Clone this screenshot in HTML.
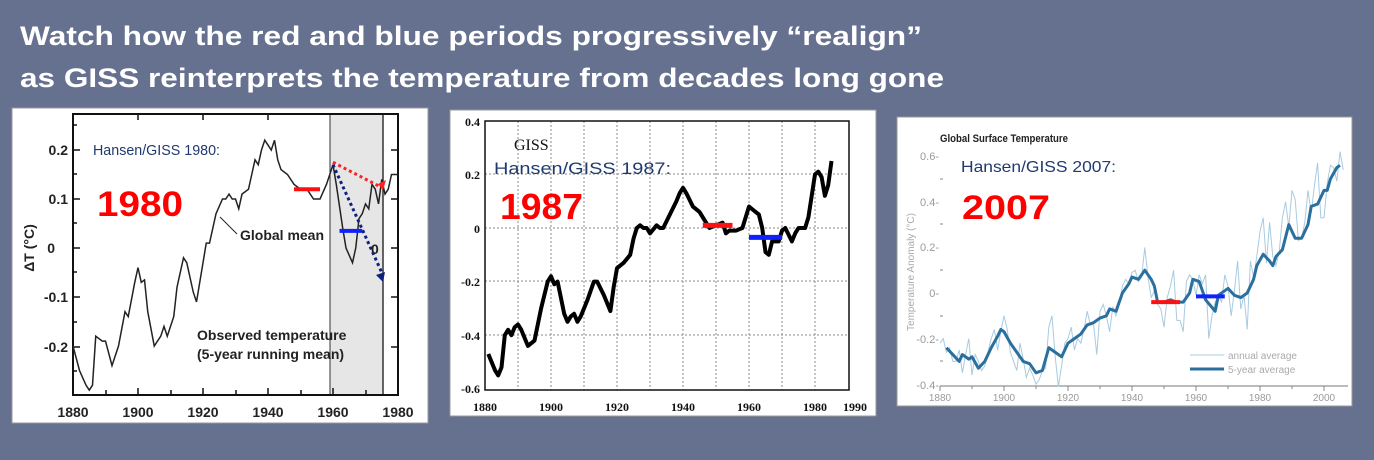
<!DOCTYPE html>
<html><head><meta charset="utf-8"><style>
html,body{margin:0;padding:0;background:#66718f;}
svg{display:block}
</style></head><body>
<svg width="1374" height="460" viewBox="0 0 1374 460" xmlns="http://www.w3.org/2000/svg" font-family="Liberation Sans, sans-serif">
<rect width="1374" height="460" fill="#66718f"/>
<text x="20" y="45" fill="#fff" font-size="27" font-weight="bold" textLength="902" lengthAdjust="spacingAndGlyphs">Watch how the red and blue periods progressively “realign”</text>
<text x="20" y="87" fill="#fff" font-size="27" font-weight="bold" textLength="924" lengthAdjust="spacingAndGlyphs">as GISS reinterprets the temperature from decades long gone</text>

<!-- Panel 1 -->
<rect x="12" y="108" width="416" height="315" fill="#fff" stroke="#999"/>
<rect x="330" y="114" width="53" height="281" fill="#e6e6e6"/>
<line x1="330" y1="114" x2="330" y2="395" stroke="#333" stroke-width="1"/>
<line x1="383" y1="114" x2="383" y2="395" stroke="#333" stroke-width="1.5"/>
<rect x="73" y="114" width="325" height="281" fill="none" stroke="#111" stroke-width="2"/>
<g stroke="#111" stroke-width="1.5">
<line x1="73" y1="150" x2="80" y2="150"/><line x1="73" y1="199" x2="80" y2="199"/><line x1="73" y1="248" x2="80" y2="248"/><line x1="73" y1="297" x2="80" y2="297"/><line x1="73" y1="347" x2="80" y2="347"/>
<line x1="73" y1="174" x2="77" y2="174"/><line x1="73" y1="223" x2="77" y2="223"/><line x1="73" y1="272" x2="77" y2="272"/><line x1="73" y1="322" x2="77" y2="322"/><line x1="73" y1="371" x2="77" y2="371"/><line x1="73" y1="125" x2="77" y2="125"/>
<line x1="398" y1="150" x2="391" y2="150"/><line x1="398" y1="199" x2="391" y2="199"/><line x1="398" y1="248" x2="391" y2="248"/><line x1="398" y1="297" x2="391" y2="297"/><line x1="398" y1="347" x2="391" y2="347"/>
<line x1="138" y1="395" x2="138" y2="388"/><line x1="203" y1="395" x2="203" y2="388"/><line x1="268" y1="395" x2="268" y2="388"/><line x1="333" y1="395" x2="333" y2="388"/>
<line x1="106" y1="395" x2="106" y2="390"/><line x1="171" y1="395" x2="171" y2="390"/><line x1="236" y1="395" x2="236" y2="390"/><line x1="301" y1="395" x2="301" y2="390"/><line x1="366" y1="395" x2="366" y2="390"/>
<line x1="138" y1="114" x2="138" y2="120"/><line x1="203" y1="114" x2="203" y2="120"/><line x1="268" y1="114" x2="268" y2="120"/>
</g>
<g transform="translate(-6037,248) scale(3.25,-490)">
<polyline fill="none" stroke="#222" stroke-width="1.5" vector-effect="non-scaling-stroke" points="1880,-0.2 1882,-0.25 1884,-0.28 1885,-0.29 1886,-0.28 1887,-0.18 1889,-0.19 1890,-0.19 1892,-0.24 1894,-0.2 1896,-0.13 1897,-0.14 1899,-0.07 1900,-0.04 1901,-0.07 1902,-0.065 1903,-0.13 1905,-0.2 1907,-0.18 1908,-0.16 1909,-0.18 1911,-0.14 1912,-0.08 1914,-0.02 1915,-0.03 1917,-0.09 1918,-0.11 1920,-0.03 1921,0.01 1922,0.01 1924,0.07 1926,0.1 1927,0.1 1928,0.11 1929,0.1 1930,0.1 1931,0.08 1932,0.11 1934,0.12 1935,0.15 1936,0.18 1937,0.17 1938,0.2 1939,0.22 1940,0.21 1941,0.2 1942,0.22 1943,0.18 1944,0.16 1946,0.15 1948,0.13 1950,0.12 1952,0.12 1954,0.1 1956,0.1 1958,0.13 1960,0.17 1961,0.13 1963,0.04 1964,0.0 1966,-0.03 1967,0.0 1968,0.06 1969,0.07 1970,0.09 1971,0.08 1972,0.13 1973,0.12 1974,0.09 1975,0.14 1976,0.11 1977,0.12 1978,0.15 1980,0.15"/>
<line x1="1948" y1="0.12" x2="1956" y2="0.12" stroke="#ff1010" stroke-width="4" vector-effect="non-scaling-stroke"/>
<line x1="1962" y1="0.035" x2="1969" y2="0.035" stroke="#1020ff" stroke-width="4" vector-effect="non-scaling-stroke"/>
<line x1="1960" y1="0.175" x2="1974.5" y2="0.125" stroke="#ff2020" stroke-width="3" stroke-dasharray="3 3" vector-effect="non-scaling-stroke"/>
<line x1="1960" y1="0.17" x2="1975" y2="-0.05" stroke="#102080" stroke-width="3" stroke-dasharray="3 3" vector-effect="non-scaling-stroke"/>
</g>
<polygon points="378,184 386,180 383,190" fill="#ff2020"/>
<polygon points="376,275 385,272 383,282" fill="#102080"/>
<g font-size="14" font-weight="bold" fill="#222" text-anchor="end">
<text x="68" y="155">0.2</text><text x="68" y="204">0.1</text><text x="55" y="253">0</text><text x="68" y="302">-0.1</text><text x="68" y="352">-0.2</text>
</g>
<text transform="translate(34,248) rotate(-90)" font-size="14" font-weight="bold" fill="#222" text-anchor="middle">ΔT (°C)</text>
<g font-size="14" font-weight="bold" fill="#222" text-anchor="middle">
<text x="73" y="417">1880</text><text x="138" y="417">1900</text><text x="203" y="417">1920</text><text x="268" y="417">1940</text><text x="333" y="417">1960</text><text x="398" y="417">1980</text>
</g>
<line x1="220" y1="217" x2="237" y2="234" stroke="#222" stroke-width="1"/>
<text x="240" y="240" font-size="14" font-weight="bold" fill="#222">Global mean</text>
<text x="371" y="254" font-size="14" font-weight="bold" fill="#222">0</text>
<text x="197" y="340" font-size="14" font-weight="bold" fill="#222">Observed temperature</text>
<text x="197" y="359" font-size="14" font-weight="bold" fill="#222">(5-year running mean)</text>
<text x="93" y="155" font-size="15" fill="#1f3a6e" textLength="127" lengthAdjust="spacingAndGlyphs">Hansen/GISS 1980:</text>
<text x="97" y="216" font-size="35" font-weight="bold" fill="#ff0000" textLength="86" lengthAdjust="spacingAndGlyphs">1980</text>

<!-- Panel 2 -->
<rect x="450" y="110" width="426" height="306" fill="#fff" stroke="#999"/>
<g stroke="#888" stroke-width="1" stroke-dasharray="2 2">
<line x1="518" y1="121" x2="518" y2="390"/><line x1="551" y1="121" x2="551" y2="390"/><line x1="584" y1="121" x2="584" y2="390"/><line x1="617" y1="121" x2="617" y2="390"/><line x1="650" y1="121" x2="650" y2="390"/><line x1="683" y1="121" x2="683" y2="390"/><line x1="716" y1="121" x2="716" y2="390"/><line x1="749" y1="121" x2="749" y2="390"/><line x1="782" y1="121" x2="782" y2="390"/><line x1="815" y1="121" x2="815" y2="390"/>
<line x1="485" y1="174" x2="849" y2="174"/><line x1="485" y1="228" x2="849" y2="228"/><line x1="485" y1="281" x2="849" y2="281"/><line x1="485" y1="335" x2="849" y2="335"/>
</g>
<rect x="485" y="121" width="364" height="269" fill="none" stroke="#111" stroke-width="1.5"/>
<g transform="translate(-5719,228) scale(3.3,-268)">
<polyline fill="none" stroke="#000" stroke-width="4" stroke-linejoin="round" vector-effect="non-scaling-stroke" points="1881,-0.47 1883,-0.53 1884,-0.55 1885,-0.52 1886,-0.4 1887,-0.38 1888,-0.4 1889,-0.37 1890,-0.36 1891,-0.38 1893,-0.44 1895,-0.42 1897,-0.3 1899,-0.2 1900,-0.18 1901,-0.21 1902,-0.2 1904,-0.32 1905,-0.35 1906,-0.33 1907,-0.32 1908,-0.35 1909,-0.33 1911,-0.27 1913,-0.2 1914,-0.2 1916,-0.25 1918,-0.31 1919,-0.22 1920,-0.15 1922,-0.13 1924,-0.1 1925,-0.04 1926,0.0 1927,0.01 1928,0.0 1929,0.0 1930,-0.02 1932,0.01 1933,0.0 1934,0.0 1936,0.05 1938,0.1 1939,0.13 1940,0.15 1941,0.13 1943,0.08 1945,0.06 1947,0.02 1948,0.0 1950,0.01 1952,0.02 1953,-0.02 1954,-0.01 1956,-0.01 1958,0.0 1960,0.08 1961,0.07 1963,0.05 1964,0.0 1965,-0.09 1966,-0.1 1967,-0.05 1968,-0.05 1969,-0.05 1970,-0.01 1971,0.0 1973,-0.05 1974,-0.02 1975,0.0 1977,0.0 1978,0.04 1979,0.12 1980,0.2 1981,0.21 1982,0.19 1983,0.12 1984,0.16 1985,0.25"/>
<line x1="1946" y1="0.01" x2="1955" y2="0.01" stroke="#ff1010" stroke-width="5" vector-effect="non-scaling-stroke"/>
<line x1="1960" y1="-0.035" x2="1970" y2="-0.035" stroke="#1020ff" stroke-width="5" vector-effect="non-scaling-stroke"/>
</g>
<g font-size="12" font-weight="bold" fill="#111" text-anchor="end" font-family="Liberation Serif, serif">
<text x="480" y="126">0.4</text><text x="480" y="179">0.2</text><text x="480" y="233">0</text><text x="480" y="286">-0.2</text><text x="480" y="340">-0.4</text><text x="480" y="393">-0.6</text>
</g>
<g font-size="12" font-weight="bold" fill="#111" text-anchor="middle" font-family="Liberation Serif, serif">
<text x="485" y="411">1880</text><text x="551" y="411">1900</text><text x="617" y="411">1920</text><text x="683" y="411">1940</text><text x="749" y="411">1960</text><text x="815" y="411">1980</text><text x="855" y="411">1990</text>
</g>
<text x="514" y="150" font-size="16" fill="#111" font-family="Liberation Serif, serif">GISS</text>
<text x="494" y="174" font-size="17" fill="#1f3a6e" textLength="177" lengthAdjust="spacingAndGlyphs">Hansen/GISS 1987:</text>
<text x="500" y="219" font-size="36" font-weight="bold" fill="#ff0000" textLength="83" lengthAdjust="spacingAndGlyphs">1987</text>

<!-- Panel 3 -->
<rect x="897" y="117" width="455" height="289" fill="#fff" stroke="#999"/>
<line x1="940" y1="386" x2="1348" y2="386" stroke="#777" stroke-width="1"/>
<g stroke="#888" stroke-width="1">
<line x1="940" y1="386" x2="940" y2="391"/><line x1="1004" y1="386" x2="1004" y2="391"/><line x1="1068" y1="386" x2="1068" y2="391"/><line x1="1132" y1="386" x2="1132" y2="391"/><line x1="1196" y1="386" x2="1196" y2="391"/><line x1="1260" y1="386" x2="1260" y2="391"/><line x1="1324" y1="386" x2="1324" y2="391"/>
<line x1="972" y1="386" x2="972" y2="389"/><line x1="1036" y1="386" x2="1036" y2="389"/><line x1="1100" y1="386" x2="1100" y2="389"/><line x1="1164" y1="386" x2="1164" y2="389"/><line x1="1228" y1="386" x2="1228" y2="389"/><line x1="1292" y1="386" x2="1292" y2="389"/>
<line x1="940" y1="179" x2="943" y2="179"/><line x1="940" y1="224" x2="943" y2="224"/><line x1="940" y1="270" x2="943" y2="270"/><line x1="940" y1="316" x2="943" y2="316"/><line x1="940" y1="361" x2="943" y2="361"/>
</g>
<g font-size="11" fill="#999" text-anchor="end">
<text x="939" y="160">0.6-</text><text x="939" y="206">0.4-</text><text x="939" y="251">0.2-</text><text x="939" y="297">0-</text><text x="939" y="343">-0.2-</text><text x="939" y="389">-0.4-</text>
</g>
<g font-size="10" fill="#999" text-anchor="middle">
<text x="940" y="401">1880</text><text x="1004" y="401">1900</text><text x="1068" y="401">1920</text><text x="1132" y="401">1940</text><text x="1196" y="401">1960</text><text x="1260" y="401">1980</text><text x="1324" y="401">2000</text>
</g>
<text transform="translate(914,272) rotate(-90)" font-size="10" fill="#aaa" text-anchor="middle">Temperature Anomaly (°C)</text>
<g transform="translate(-5076,293) scale(3.2,-228)">
<polyline fill="none" stroke="#a8cbe0" stroke-width="1" vector-effect="non-scaling-stroke" points="1880,-0.22 1881,-0.2 1882,-0.26 1883,-0.24 1884,-0.3 1885,-0.3 1886,-0.25 1887,-0.35 1888,-0.27 1889,-0.2 1890,-0.36 1891,-0.27 1892,-0.3 1893,-0.34 1894,-0.32 1895,-0.26 1896,-0.2 1897,-0.16 1898,-0.25 1899,-0.17 1900,-0.1 1901,-0.16 1902,-0.26 1903,-0.3 1904,-0.34 1905,-0.22 1906,-0.29 1907,-0.37 1908,-0.33 1909,-0.36 1910,-0.4 1911,-0.38 1912,-0.34 1913,-0.33 1914,-0.15 1915,-0.1 1916,-0.28 1917,-0.41 1918,-0.32 1919,-0.22 1920,-0.2 1921,-0.15 1922,-0.25 1923,-0.2 1924,-0.22 1925,-0.16 1926,-0.08 1927,-0.14 1928,-0.14 1929,-0.27 1930,-0.08 1931,-0.05 1932,-0.1 1933,-0.17 1934,-0.06 1935,-0.1 1936,-0.05 1937,0.03 1938,0.06 1939,0.04 1940,0.09 1941,0.1 1942,0.05 1943,0.07 1944,0.2 1945,0.07 1946,-0.02 1947,0.01 1948,-0.05 1949,-0.07 1950,-0.15 1951,-0.02 1952,0.03 1953,0.1 1954,-0.12 1955,-0.12 1956,-0.17 1957,0.05 1958,0.08 1959,0.06 1960,-0.01 1961,0.08 1962,0.04 1963,0.08 1964,-0.2 1965,-0.1 1966,-0.04 1967,-0.01 1968,-0.04 1969,0.08 1970,0.03 1971,-0.1 1972,0.01 1973,0.14 1974,-0.07 1975,-0.01 1976,-0.16 1977,0.14 1978,0.07 1979,0.16 1980,0.27 1981,0.33 1982,0.13 1983,0.31 1984,0.16 1985,0.12 1986,0.18 1987,0.33 1988,0.4 1989,0.29 1990,0.45 1991,0.41 1992,0.23 1993,0.24 1994,0.31 1995,0.45 1996,0.35 1997,0.47 1998,0.57 1999,0.33 2000,0.33 2001,0.48 2002,0.56 2003,0.55 2004,0.49 2005,0.62 2006,0.54"/>
<polyline fill="none" stroke="#2a6f9e" stroke-width="3" stroke-linejoin="round" vector-effect="non-scaling-stroke" points="1882,-0.24 1884,-0.27 1886,-0.3 1887,-0.27 1889,-0.29 1890,-0.28 1892,-0.33 1894,-0.3 1896,-0.24 1898,-0.19 1899,-0.16 1900,-0.17 1902,-0.22 1904,-0.26 1906,-0.3 1908,-0.31 1910,-0.35 1912,-0.34 1914,-0.24 1916,-0.26 1918,-0.28 1920,-0.22 1922,-0.2 1924,-0.18 1926,-0.14 1928,-0.13 1930,-0.11 1932,-0.1 1933,-0.07 1935,-0.08 1937,0.0 1939,0.04 1940,0.07 1942,0.06 1944,0.1 1946,0.06 1947,0.03 1948,-0.04 1950,-0.04 1952,-0.03 1954,-0.04 1956,-0.04 1958,0.0 1959,0.06 1961,0.05 1963,-0.03 1966,-0.08 1967,-0.01 1970,0.02 1972,-0.01 1974,-0.02 1976,0.0 1978,0.06 1979,0.12 1981,0.17 1983,0.14 1984,0.12 1985,0.16 1987,0.19 1989,0.3 1991,0.24 1993,0.24 1995,0.3 1996,0.38 1998,0.39 2000,0.45 2001,0.45 2002,0.5 2004,0.55 2005,0.56"/>
<line x1="1946" y1="-0.04" x2="1955" y2="-0.04" stroke="#ff1010" stroke-width="4" vector-effect="non-scaling-stroke"/>
<line x1="1960" y1="-0.015" x2="1969" y2="-0.015" stroke="#1020ff" stroke-width="4" vector-effect="non-scaling-stroke"/>
</g>
<line x1="1190" y1="355" x2="1224" y2="355" stroke="#a8cbe0" stroke-width="1"/>
<line x1="1190" y1="369" x2="1224" y2="369" stroke="#2a6f9e" stroke-width="3"/>
<text x="1228" y="359" font-size="10" fill="#aaa">annual average</text>
<text x="1228" y="373" font-size="10" fill="#aaa">5-year average</text>
<text x="940" y="142" font-size="11" font-weight="bold" fill="#222" textLength="128" lengthAdjust="spacingAndGlyphs">Global Surface Temperature</text>
<text x="961" y="172" font-size="16" fill="#1f3a6e" textLength="155" lengthAdjust="spacingAndGlyphs">Hansen/GISS 2007:</text>
<text x="962" y="219" font-size="34" font-weight="bold" fill="#ff0000" textLength="88" lengthAdjust="spacingAndGlyphs">2007</text>
</svg>
</body></html>
